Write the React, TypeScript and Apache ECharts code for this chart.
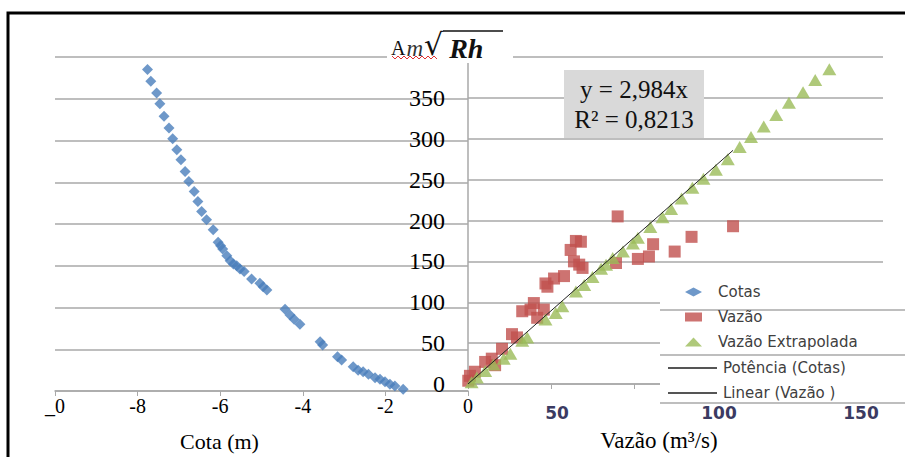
import React, { useEffect, useRef } from 'react';
import * as echarts from 'echarts';

// Cotas (m) vs A·m·√Rh
const cotaX = [-7.76, -7.68, -7.54, -7.46, -7.36, -7.24, -7.15, -7.05, -6.95, -6.85, -6.76, -6.63, -6.54, -6.45, -6.33, -6.17, -6.05, -5.99, -5.94, -5.84, -5.76, -5.68, -5.6, -5.52, -5.42, -5.24, -5.04, -4.96, -4.87, -4.43, -4.31, -4.21, -4.07, -3.58, -3.52, -3.16, -3.06, -2.78, -2.66, -2.54, -2.41, -2.25, -2.13, -2.01, -1.89, -1.77, -1.57];
const cotaY = [385, 371, 357, 344, 329, 315, 302, 289, 277, 263, 251, 239, 227, 215, 205, 193, 178, 174, 170, 162, 156, 152, 150, 146, 143, 134, 129, 125, 121, 98, 91, 86, 80, 59, 55, 41, 37, 29, 25, 23, 20, 16, 14, 11, 8, 6, 2];

// Vazão (m³/s) vs A·m·√Rh
const vazaoX = [54.1, 95.8, 80.8, 39.0, 40.8, 37.1, 66.9, 74.7, 65.4, 61.4, 38.3, 40.2, 41.4, 53.5, 34.7, 31.1, 28.0, 28.7, 23.8, 19.6, 22.6, 25.0, 27.4, 15.9, 17.7, 12.3, 8.6, 6.2, 9.8, 2.5, 0.7, 0.1];
const vazaoY = [205, 193, 180, 175, 174, 164, 171, 162, 156, 153, 150, 146, 142, 148, 132, 129, 123, 119, 99, 89, 91, 81, 91, 61, 57, 43, 31, 27, 23, 15, 10, 4];

// Vazão Extrapolada
const extrapX = [130.6, 125.5, 121.1, 116.0, 111.4, 106.9, 102.3, 98.2, 93.9, 89.6, 85.1, 81.1, 77.2, 73.4, 70.3, 65.9, 61.4, 59.6, 56.0, 52.3, 49.9, 48.1, 45.0, 42.0, 39.0, 34.1, 31.7, 28.0, 21.4, 19.6, 15.3, 12.9, 9.2, 6.2, 3.2, 1.3];
const extrapY = [385, 372, 357, 344, 329, 315, 302, 290, 275, 262, 251, 240, 227, 214, 204, 192, 179, 172, 162, 154, 146, 141, 131, 121, 113, 95, 87, 79, 57, 53, 37, 31, 24, 16, 8, 2];

const trendSlope = 2.984;
const trendR2 = 0.8213;

const yMin = 0, yMax = 400, yStep = 50;
const cotaMin = -10, cotaMax = 0, cotaStep = 2;
const vazaoMin = 0, vazaoMax = 150, vazaoStep = 30;
const vazaoOverlayLabels = ['50', '100', '150'];

const seriesNames = ['Cotas', 'Vazão', 'Vazão Extrapolada', 'Potência (Cotas)', 'Linear (Vazão )'];

export default function App() {
  const ref = useRef<HTMLDivElement>(null);
  useEffect(() => {
    const chart = echarts.init(ref.current!, null, { renderer: 'svg' });
    const zip = (xs: number[], ys: number[]) => xs.map((x, i) => [x, ys[i]]);
    const vMax = Math.max(...vazaoX);
    const linearData = [[0, 0], [vMax, trendSlope * vMax]];
    const fmtComma = (n: number, d: number) => n.toFixed(d).replace('.', ',');

    const serif = 'Liberation Serif';
    const gridColor = '#a9a9a9';

    // decorative spell-check squiggle
    const squiggle: number[][] = [];
    for (let i = 0; i <= 15; i++) squiggle.push([392 + i * 3, i % 2 === 0 ? 56 : 59]);

    const option: any = {
      animation: false,
      backgroundColor: '#ffffff',
      grid: [
        { left: 55, right: 905 - 468, top: 57, bottom: 64 },
        { left: 468, right: 905 - 883, top: 57, bottom: 64 },
      ],
      xAxis: [
        {
          type: 'value', gridIndex: 0, min: cotaMin, max: cotaMax, interval: cotaStep,
          axisLine: { show: true, onZero: false, lineStyle: { color: gridColor, width: 1.5 } },
          axisTick: { show: true, length: 5, lineStyle: { color: gridColor } },
          splitLine: { show: false },
          axisLabel: {
            margin: 5, fontFamily: serif, fontSize: 20, color: '#000',
            formatter: (v: number) => (v === cotaMin ? '_0' : String(v)),
          },
          name: 'Cota (m)', nameLocation: 'middle', nameGap: 39,
          nameTextStyle: { fontFamily: serif, fontSize: 22, color: '#000', padding: [0, 84, 0, 0] },
        },
        {
          type: 'value', gridIndex: 1, min: vazaoMin, max: vazaoMax, interval: vazaoStep,
          axisLine: { show: true, onZero: false, lineStyle: { color: gridColor, width: 1.5 } },
          axisTick: { show: true, length: 5, lineStyle: { color: gridColor } },
          splitLine: { show: false },
          axisLabel: { show: false },
          name: 'Vazão (m³/s)', nameLocation: 'middle', nameGap: 45,
          nameTextStyle: { fontFamily: serif, fontSize: 23, color: '#000', padding: [0, 33, 0, 0] },
        },
      ],
      yAxis: [
        {
          type: 'value', gridIndex: 0, min: yMin, max: yMax, interval: yStep,
          axisLine: { show: false }, axisTick: { show: false }, axisLabel: { show: false },
          splitLine: { show: true, lineStyle: { color: gridColor, width: 1.5 } },
        },
        {
          type: 'value', gridIndex: 1, min: yMin, max: yMax, interval: yStep, position: 'left',
          axisLine: { show: true, onZero: false, lineStyle: { color: gridColor, width: 1.5 } },
          axisTick: { show: false },
          axisLabel: { margin: 23, fontFamily: serif, fontSize: 24, color: '#000', showMaxLabel: false, padding: [4, 0, 0, 0] },
          splitLine: { show: true, lineStyle: { color: gridColor, width: 1.5 } },
        },
      ],
      legend: [
        {
          data: [
            { name: seriesNames[0], icon: 'diamond' },
            { name: seriesNames[1], icon: 'rect' },
            { name: seriesNames[2], icon: 'triangle' },
          ],
          orient: 'vertical', left: 685, top: 284, padding: 0,
          itemWidth: 17, itemHeight: 9, itemGap: 9,
          textStyle: { fontFamily: 'DejaVu Sans', fontSize: 15, lineHeight: 16, color: '#404040', padding: [0, 0, 0, 11] },
          selectedMode: false, z: 6,
        },
        {
          data: [
            { name: seriesNames[3], icon: 'rect' },
            { name: seriesNames[4], icon: 'rect' },
          ],
          orient: 'vertical', left: 668, top: 360, padding: 0,
          itemWidth: 49, itemHeight: 2, itemGap: 9,
          textStyle: { fontFamily: 'DejaVu Sans', fontSize: 15, lineHeight: 16, color: '#404040', padding: [0, 0, 0, 1] },
          selectedMode: false, z: 6,
        },
      ],
      series: [
        {
          name: seriesNames[0], type: 'scatter', xAxisIndex: 0, yAxisIndex: 0,
          symbol: 'diamond', symbolSize: 11, itemStyle: { color: '#4A7EBB' },
          data: zip(cotaX, cotaY),
        },
        {
          name: seriesNames[1], type: 'scatter', xAxisIndex: 1, yAxisIndex: 1,
          symbol: 'rect', symbolSize: 12, itemStyle: { color: '#C0504D' },
          data: zip(vazaoX, vazaoY),
        },
        {
          name: seriesNames[2], type: 'scatter', xAxisIndex: 1, yAxisIndex: 1,
          symbol: 'triangle', symbolSize: [14, 12], itemStyle: { color: '#9BBB59' },
          data: zip(extrapX, extrapY),
        },
        {
          name: seriesNames[3], type: 'line', xAxisIndex: 0, yAxisIndex: 0,
          symbol: 'none', lineStyle: { color: '#555', width: 1.5 }, itemStyle: { color: '#555' },
          data: [],
        },
        {
          name: seriesNames[4], type: 'line', xAxisIndex: 1, yAxisIndex: 1, z: 3,
          symbol: 'none', lineStyle: { color: '#222', width: 1 }, itemStyle: { color: '#555' },
          data: linearData,
        },
      ],
      graphic: [
        // legend background (pasted legend box)
        { type: 'rect', z: 5, shape: { x: 660, y: 278, width: 250, height: 125 }, style: { fill: '#fff' } },
        { type: 'line', z: 5, shape: { x1: 660, y1: 310, x2: 905, y2: 310 }, style: { stroke: gridColor, lineWidth: 1.5 } },
        { type: 'line', z: 5, shape: { x1: 660, y1: 355, x2: 905, y2: 355 }, style: { stroke: gridColor, lineWidth: 1.5 } },
        { type: 'line', z: 5, shape: { x1: 660, y1: 403, x2: 905, y2: 403 }, style: { stroke: gridColor, lineWidth: 1.5 } },
        // title box
        { type: 'rect', z: 10, shape: { x: 387, y: 26, width: 126, height: 37 }, style: { fill: '#fff' } },
        {
          type: 'text', z: 11, x: 391, y: 46,
          style: {
            text: '{a|A}{m|m}{r|√}{b|Rh}',
            verticalAlign: 'middle',
            fill: '#111',
            rich: {
              a: { fontFamily: serif, fontSize: 20, fill: '#111', padding: [4, 0, 0, 0] },
              m: { fontFamily: serif, fontStyle: 'italic', fontSize: 23, fill: '#333', padding: [4, 1, 0, 1] },
              r: { fontFamily: 'DejaVu Serif', fontSize: 30, fill: '#111', padding: [0, 0, 4, 0] },
              b: { fontFamily: serif, fontStyle: 'italic', fontWeight: 'bold', fontSize: 28, fill: '#111', padding: [4, 0, 0, 6] },
            },
          },
        },
        { type: 'line', z: 11, shape: { x1: 443, y1: 31, x2: 503, y2: 31 }, style: { stroke: '#111', lineWidth: 1.5 } },
        { type: 'polyline', z: 11, shape: { points: squiggle }, style: { stroke: '#e03030', lineWidth: 1, fill: 'none' } },
        // equation box
        { type: 'rect', z: 10, shape: { x: 564, y: 70, width: 140, height: 68 }, style: { fill: '#d9d9d9' } },
        { type: 'text', z: 11, x: 634, y: 89, style: { text: `y = ${fmtComma(trendSlope, 3)}x`, font: `25px "${serif}"`, fill: '#111', align: 'center', verticalAlign: 'middle' } },
        { type: 'text', z: 11, x: 634, y: 119, style: { text: `R² = ${fmtComma(trendR2, 4)}`, font: `25px "${serif}"`, fill: '#111', align: 'center', verticalAlign: 'middle' } },
        // overlay Vazão tick labels
        { type: 'text', z: 11, x: 557, y: 413, style: { text: vazaoOverlayLabels[0], font: `bold 17px "DejaVu Sans"`, fill: '#3b3b62', align: 'center', verticalAlign: 'middle' } },
        { type: 'text', z: 11, x: 719, y: 413, style: { text: vazaoOverlayLabels[1], font: `bold 17px "DejaVu Sans"`, fill: '#3b3b62', align: 'center', verticalAlign: 'middle' } },
        { type: 'text', z: 11, x: 861, y: 413, style: { text: vazaoOverlayLabels[2], font: `bold 17px "DejaVu Sans"`, fill: '#3b3b62', align: 'center', verticalAlign: 'middle' } },
        // outer frame
        { type: 'rect', z: 20, shape: { x: 8, y: 13, width: 1000, height: 500 }, style: { fill: 'none', stroke: '#000', lineWidth: 3 } },
      ],
    };
    chart.setOption(option);
    return () => chart.dispose();
  }, []);
  return <div ref={ref} style={{ position: 'fixed', left: 0, top: 0, width: 905, height: 457, background: '#fff' }} />;
}
